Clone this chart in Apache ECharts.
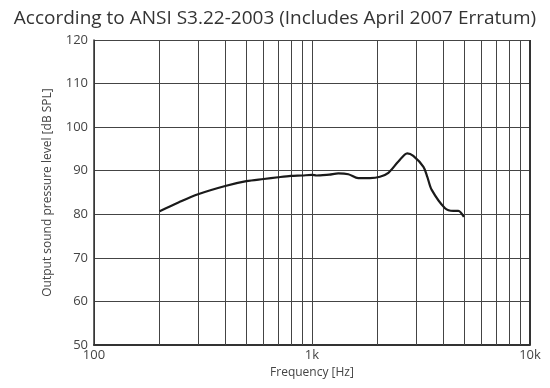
<!DOCTYPE html>
<html><head><meta charset="utf-8">
<script src="https://cdn.jsdelivr.net/npm/echarts@6/dist/echarts.min.js"></script>
<style>html,body{margin:0;padding:0;background:#fff}#c{width:550px;height:388px}</style>
</head><body><div id="c"></div>
<script>
var titleText = "According to ANSI S3.22-2003 (Includes April 2007 Erratum)";
var freqHz = [200, 244, 300, 400, 500, 600, 700, 800, 900, 1000, 1050, 1089, 1200, 1321, 1468, 1630, 1845, 2050, 2240, 2490, 2735, 2915, 3245, 3380, 3542, 4076, 4450, 4690, 4977];
var splDb  = [80.7, 82.7, 84.6, 86.5, 87.6, 88.1, 88.5, 88.8, 88.9, 89.05, 88.9, 88.95, 89.1, 89.4, 89.2, 88.3, 88.3, 88.6, 89.5, 92.1, 94.0, 93.4, 90.9, 88.6, 85.6, 81.4, 80.8, 80.8, 79.4];
var minorGridHz = [200, 300, 400, 500, 600, 700, 800, 900, 1000, 2000, 3000, 4000, 5000, 6000, 7000, 8000, 9000];
var xTickLabels = {100: "100", 1000: "1k", 10000: "10k"};
var yTicks = [50, 60, 70, 80, 90, 100, 110, 120];

var font = "Open Sans";
var chart = echarts.init(document.getElementById('c'), null, {renderer: 'canvas'});
chart.setOption({
  animation: false,
  title: {
    text: titleText, left: 'center', top: 4,
    textStyle: {fontFamily: font, fontSize: 19, fontWeight: 'normal', color: '#333'}
  },
  grid: {left: 94, right: 20, top: 40, bottom: 43},
  xAxis: {
    type: 'log', logBase: 10, min: 100, max: 10000,
    name: 'Frequency [Hz]', nameLocation: 'middle', nameGap: 22,
    nameTextStyle: {fontFamily: font, fontSize: 12, color: '#444'},
    axisLine: {show: true, lineStyle: {color: '#333', width: 2}},
    axisTick: {show: false},
    axisLabel: {fontFamily: font, fontSize: 13, color: '#444', margin: 4,
      formatter: function (v) { return xTickLabels[Math.round(v)] || ''; }},
    splitLine: {show: true, lineStyle: {color: '#444', width: 1}}
  },
  yAxis: {
    type: 'value', min: yTicks[0], max: yTicks[yTicks.length - 1], interval: 10,
    name: 'Output sound pressure level [dB SPL]', nameLocation: 'middle', nameGap: 40,
    nameTextStyle: {fontFamily: font, fontSize: 12, color: '#444'},
    axisLine: {show: true, lineStyle: {color: '#333', width: 1.5}},
    axisTick: {show: false},
    axisLabel: {fontFamily: font, fontSize: 13, color: '#444', margin: 6},
    splitLine: {show: true, lineStyle: {color: '#444', width: 1}}
  },
  series: [{
    type: 'line', smooth: 0.3, symbol: 'none',
    data: freqHz.map(function (f, i) { return [f, splDb[i]]; }),
    lineStyle: {color: '#1a1a1a', width: 2.2},
    z: 5,
    markLine: {
      silent: true, symbol: ['none', 'none'], label: {show: false},
      lineStyle: {color: '#444', width: 1, type: 'solid'},
      data: minorGridHz.map(function (f) { return {xAxis: f}; }).concat([{xAxis: 10000, lineStyle: {color: '#333', width: 2}}])
    }
  }]
});
</script></body></html>
